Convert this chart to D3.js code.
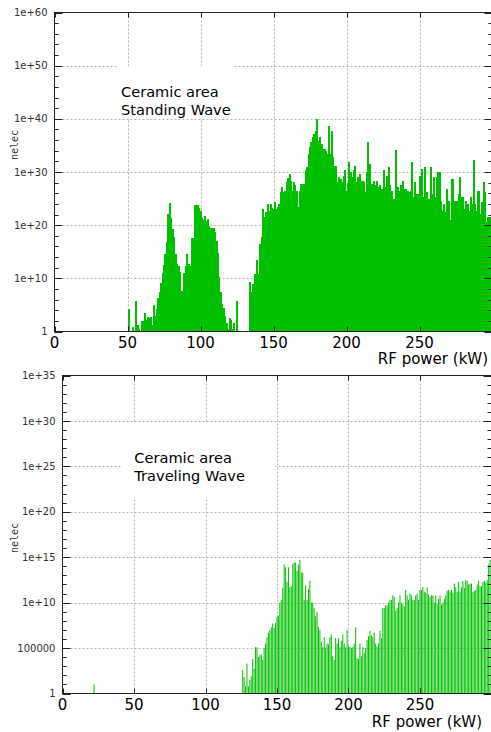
<!DOCTYPE html>
<html>
<head>
<meta charset="utf-8">
<script src="https://cdn.jsdelivr.net/npm/d3@7"></script>
<style>
  body { margin: 0; background: #fff; }
  svg { display: block; }
</style>
</head>
<body>
<svg id="chart" width="491" height="732"></svg>
<script>
// RF power ticks (kW), shared by both panels
const powerTicks = [0, 50, 100, 150, 200, 250]

// Standing wave: log10(nelec), one value per kW starting at 50 kW (null = no bar)
const standingStart = 50
const standingLog10 = [
  null, 4.3, null, null, 0.9, null, 5.8, 1.3, 0.5, null,
  1.9, 1.9, 3.5, 2.2, 2.7, 2.6, 2.7, 1.3, 4.9, 3.0,
  4.2, 6.3, 7.4, 9.2, 11.0, 12.5, 14.6, 16.8, 22.1, 24.2,
  21.3, 19.3, 17.7, 14.6, 12.7, 12.3, 11.2, 7.7, 7.1, 11.0,
  12.4, 14.6, 12.7, 12.4, 17.5, 17.5, 23.7, 23.8, 23.7, 23.2,
  22.6, 21.3, 20.9, 21.8, 20.7, 21.2, 19.9, 19.5, 19.4, 19.4,
  18.7, 17.1, 14.7, 10.2, 7.4, 5.2, 4.4, 3.0, 1.6, 0.5,
  2.5, 2.2, 0.5, 1.6, null, 5.8, null, null, null, null,
  null, null, null, null, 9.3, 7.4, 9.0, 10.8, 10.6, 13.4,
  10.8, 16.5, 17.7, 23.1, 21.5, 22.5, 24.0, 22.7, 24.0, 23.3,
  23.1, 24.3, 23.1, 23.5, 24.0, 26.2, 27.1, 26.2, 26.5, 28.1,
  28.9, 29.7, 28.3, 26.5, 28.1, 27.5, 26.5, 23.4, 26.5, 27.8,
  27.8, 27.8, 30.3, 30.9, 33.4, 34.7, 35.6, 36.5, 37.2, 37.8,
  40.0, 35.9, 36.5, 35.3, 34.4, 34.4, 34.0, 33.4, 38.7, 33.4,
  37.8, 32.8, 31.2, 31.2, 28.1, 29.0, 28.7, 28.1, 29.3, 30.3,
  26.5, 28.0, 31.8, 30.0, 29.0, 30.3, 31.2, 28.1, 29.0, 29.7,
  28.4, 28.4, 28.1, 26.2, 30.0, 35.6, 31.5, 27.8, 27.8, 28.4,
  27.5, 28.4, 27.1, 27.5, 26.8, 26.8, 30.3, 27.1, 29.3, 30.9,
  27.5, 26.5, 25.0, 25.0, 34.2, 27.1, 26.5, 27.5, 26.5, 28.4,
  26.8, 26.8, 26.5, 26.2, 26.5, 31.8, 25.3, 28.1, 25.8, 25.8,
  29.3, 26.5, 30.6, 25.3, 30.9, 26.2, 25.0, 25.0, 30.9, 25.8,
  29.0, 25.3, 29.0, 30.0, 30.0, 24.6, 22.7, 24.0, 22.4, 26.8,
  24.6, 20.9, 28.7, 28.7, 24.6, 23.1, 24.6, 25.8, 29.0, 25.3,
  25.3, 23.1, 24.6, 24.0, 22.7, 25.3, 24.0, 32.2, 24.0, 22.7,
  26.5, 26.5, 22.1, 24.3, 28.1, 26.2, 20.6, 21.5, 21.5, 21.5
]
const standingTicks = [1, 1e10, 1e20, 1e30, 1e40, 1e50, 1e60]
const standingTickLabels = ['1', '1e+10', '1e+20', '1e+30', '1e+40', '1e+50', '1e+60']

// Traveling wave: log10(nelec), one value per kW starting at 126 kW
const travelingStart = 126
const travelingLog10 = [
  2.6, 1.8, 0.8, 3.3, 0.8, 1.5, 1.9, 3.8, 2.7, 5.1,
  5.1, 4.0, 4.2, 4.3, 3.7, 5.0, 5.5, 6.2, 6.7, 7.0,
  7.3, 7.7, 7.2, 7.8, 8.4, 8.6, 10.0, 10.3, 11.6, 14.2,
  13.9, 12.3, 13.9, 11.7, 11.8, 14.3, 14.4, 14.4, 13.5, 14.2,
  14.7, 13.3, 13.3, 10.3, 11.9, 10.3, 11.5, 12.4, 10.0, 10.0,
  9.4, 8.5, 9.0, 7.3, 7.0, 5.7, 5.1, 6.2, 5.0, 5.5,
  5.4, 6.2, 6.5, 4.1, 3.7, 6.1, 5.5, 6.1, 5.1, 5.8,
  6.5, 5.5, 5.1, 7.0, 5.2, 5.1, 5.0, 5.1, 5.5, 7.3,
  3.9, 3.8, 5.5, 4.1, 5.1, 4.5, 5.0, 5.9, 6.3, 6.9,
  6.4, 6.2, 6.7, 5.5, 5.2, 5.5, 6.9, 6.1, 9.4, 9.4,
  9.7, 9.7, 10.0, 10.3, 10.3, 10.8, 10.6, 9.1, 9.4, 10.0,
  10.8, 10.0, 9.8, 9.6, 11.4, 10.8, 10.3, 11.0, 10.8, 10.3,
  10.3, 10.8, 11.0, 10.3, 11.4, 11.4, 11.7, 11.2, 11.1, 11.7,
  10.9, 10.6, 10.8, 10.8, 10.0, 10.8, 9.9, 10.4, 10.8, 9.8,
  10.0, 10.4, 10.8, 11.3, 11.4, 11.2, 11.4, 11.1, 12.1, 11.7,
  11.2, 12.3, 11.2, 11.7, 12.4, 11.6, 12.5, 12.4, 12.0, 12.1,
  12.1, 11.2, 11.3, 11.4, 12.0, 12.4, 11.8, 11.8, 12.3, 12.4,
  12.2, 12.5, 14.2, 14.7
]
// lone bar far left of the traveling wave panel
const travelingExtraKw = [22]
const travelingExtraLog10 = [1.0]
const travelingTicks = [1, 1e5, 1e10, 1e15, 1e20, 1e25, 1e30, 1e35]
const travelingTickLabels = ['1', '100000', '1e+10', '1e+15', '1e+20', '1e+25', '1e+30', '1e+35']

const GREEN = '#00c000'
const GRID = '#b4b4b4'
const BORDER = '#222'

const svg = d3.select('#chart')

/**
 * Draws one log-scale panel: grid, bars, border, ticks and labels.
 *
 * @param {*} opts Layout and data of the panel
 */
function drawPanel (opts) {
  const g = svg.append('g')
  const x = d3.scaleLinear().domain([0, 300]).range([opts.left, opts.right])
  const y = d3.scaleLog().domain([1, opts.yMax]).range([opts.bottom, opts.top])

  // dotted grid
  g.selectAll(null)
    .data(opts.majors.slice(1, -1))
    .enter().append('line')
    .attr('x1', opts.left).attr('x2', opts.right)
    .attr('y1', d => Math.round(y(d)) + 0.5).attr('y2', d => Math.round(y(d)) + 0.5)
    .attr('stroke', GRID)
    .attr('stroke-dasharray', '2,2')
  g.selectAll(null)
    .data(powerTicks.slice(1))
    .enter().append('line')
    .attr('x1', d => Math.round(x(d)) + 0.5).attr('x2', d => Math.round(x(d)) + 0.5)
    .attr('y1', opts.top).attr('y2', opts.bottom)
    .attr('stroke', GRID)
    .attr('stroke-dasharray', '2,2')

  // the label sits on an opaque box that hides the grid
  g.append('rect')
    .attr('x', opts.box[0]).attr('y', opts.box[1])
    .attr('width', opts.box[2]).attr('height', opts.box[3])
    .attr('fill', '#fff')

  // bars
  const bars = opts.values
    .map((v, i) => ({ kw: opts.start + i, v: v }))
    .concat(opts.extraKw.map((k, i) => ({ kw: k, v: opts.extraValues[i] })))
    .filter(d => d.v !== null && d.v > 0)
  g.selectAll(null)
    .data(bars)
    .enter().append('rect')
    .attr('x', d => x(d.kw) - opts.barWidth / 2)
    .attr('y', d => y(Math.pow(10, d.v)))
    .attr('width', opts.barWidth)
    .attr('height', d => y(1) - y(Math.pow(10, d.v)))
    .attr('fill', GREEN)
    .attr('shape-rendering', opts.crisp ? 'crispEdges' : 'auto')

  // border
  g.append('rect')
    .attr('x', opts.left).attr('y', opts.top)
    .attr('width', opts.right - opts.left).attr('height', opts.bottom - opts.top)
    .attr('fill', 'none')
    .attr('stroke', BORDER)

  // y ticks, major and minor, on both sides
  const ticks = opts.majors.map(d => ({ v: d, len: 8 }))
    .concat(opts.minors.map(d => ({ v: d, len: 4 })))
  g.selectAll(null)
    .data(ticks)
    .enter().append('path')
    .attr('d', d => {
      const py = Math.round(y(d.v)) + 0.5
      return 'M' + opts.left + ',' + py + 'h' + d.len +
        'M' + opts.right + ',' + py + 'h' + (-d.len)
    })
    .attr('stroke', BORDER)

  // x ticks on bottom and top
  g.selectAll(null)
    .data(powerTicks)
    .enter().append('path')
    .attr('d', d => {
      const px = Math.round(x(d)) + 0.5
      return 'M' + px + ',' + opts.bottom + 'v-5M' + px + ',' + opts.top + 'v5'
    })
    .attr('stroke', BORDER)

  // y tick labels
  g.selectAll(null)
    .data(opts.majors)
    .enter().append('text')
    .attr('x', opts.left - 7)
    .attr('y', d => y(d))
    .attr('dy', '0.36em')
    .attr('text-anchor', 'end')
    .attr('font-family', 'DejaVu Sans')
    .attr('font-size', '10px')
    .attr('fill', '#333')
    .text((d, i) => opts.majorLabels[i])

  // x tick labels
  g.selectAll(null)
    .data(powerTicks)
    .enter().append('text')
    .attr('x', d => x(d))
    .attr('y', opts.bottom + 16)
    .attr('text-anchor', 'middle')
    .attr('font-family', 'DejaVu Sans')
    .attr('font-size', '15px')
    .attr('fill', '#000')
    .text(d => d)

  g.append('text')
    .attr('x', opts.axisTitleX)
    .attr('y', opts.axisTitleY)
    .attr('text-anchor', 'end')
    .attr('font-family', 'DejaVu Sans')
    .attr('font-size', '15px')
    .text('RF power (kW)')

  g.append('text')
    .attr('transform', 'translate(18,' + opts.yTitleY + ') rotate(-90)')
    .attr('text-anchor', 'middle')
    .attr('font-family', 'DejaVu Sans Mono')
    .attr('font-size', '10px')
    .attr('fill', '#333')
    .text('nelec')

  g.selectAll(null)
    .data(opts.title)
    .enter().append('text')
    .attr('x', opts.titleX)
    .attr('y', (d, i) => opts.titleY + i * 18.5)
    .attr('font-family', 'DejaVu Sans')
    .attr('font-size', '14.6px')
    .text(d => d)
}

drawPanel({
  left: 54.5,
  right: 492.5,
  top: 12.5,
  bottom: 331.5,
  yMax: 1e60,
  majors: standingTicks,
  majorLabels: standingTickLabels,
  minors: d3.range(2, 60, 2).filter(e => e % 10 !== 0).map(e => Math.pow(10, e)),
  start: standingStart,
  values: standingLog10,
  extraKw: [],
  extraValues: [],
  barWidth: 2,
  crisp: true,
  title: ['Ceramic area', 'Standing Wave'],
  titleX: 121,
  titleY: 96.7,
  box: [118, 66, 116, 52],
  axisTitleX: 488,
  axisTitleY: 364,
  yTitleY: 145
})

drawPanel({
  left: 62.5,
  right: 491.5,
  top: 375.5,
  bottom: 693.5,
  yMax: 1e35,
  majors: travelingTicks,
  majorLabels: travelingTickLabels,
  minors: d3.range(1, 35).filter(e => e % 5 !== 0).map(e => Math.pow(10, e)),
  start: travelingStart,
  values: travelingLog10,
  extraKw: travelingExtraKw,
  extraValues: travelingExtraLog10,
  barWidth: 1,
  crisp: false,
  title: ['Ceramic area', 'Traveling Wave'],
  titleX: 134.3,
  titleY: 462.7,
  box: [122, 422, 153, 75],
  axisTitleX: 482,
  axisTitleY: 726.7,
  yTitleY: 538
})
</script>
</body>
</html>
